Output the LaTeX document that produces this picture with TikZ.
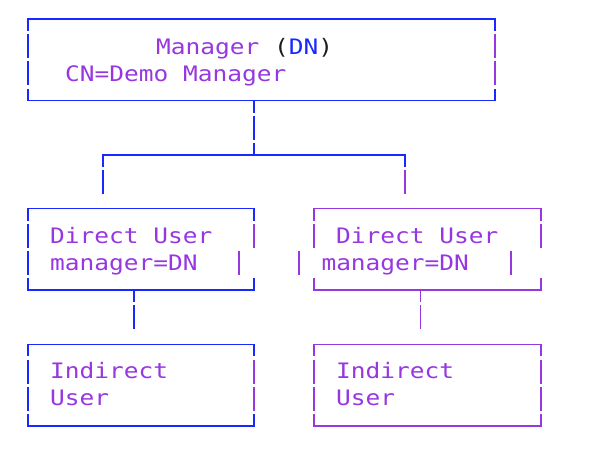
\documentclass[tikz,border=0pt]{standalone}
\usepackage{fontspec}
\usepackage{xcolor}
\usepackage{tikz}
\usetikzlibrary{positioning,calc}

\newfontfamily\asciifont[FakeStretch=1.15]{DejaVu Sans Mono}
\definecolor{asciiblue}{RGB}{25,40,255}
\definecolor{asciipurple}{RGB}{150,55,225}
\definecolor{parendark}{RGB}{30,30,30}

\begin{document}
\begin{tikzpicture}[x=1pt, y=-1pt]
    % Define styles
    \tikzstyle{box} = [rectangle, inner sep=0pt, minimum width=226pt, minimum height=81.3pt]
    \tikzstyle{blueline} = [draw=asciiblue, line width=1.8pt]
    \tikzstyle{purpleline} = [draw=asciipurple, line width=1.8pt]
    \tikzstyle{rowdash} = [dash pattern=on 24.1pt off 3pt, dash phase=12pt]
    \tikzstyle{txt} = [font={\asciifont\fontsize{21.3pt}{27.1pt}\selectfont}, text=asciipurple, anchor=base west, inner sep=0pt]

    \useasboundingbox (0,0) rectangle (599,450);

    % Boxes
    \node[box, minimum width=467pt] (manager) at (261.5,59.7) {};
    \node[box] (direct_l) at (141,249.4) {};
    \node[box, right=60pt of direct_l] (direct_r) {};
    \node[box, below=54.2pt of direct_l] (indirect_l) {};
    \node[box, below=54.2pt of direct_r] (indirect_r) {};

    % Top and bottom edges
    \foreach \b/\col in {manager/asciiblue, direct_l/asciiblue, direct_r/asciipurple, indirect_l/asciiblue, indirect_r/asciipurple} {
        \draw[draw=\col, line width=1.8pt] ([yshift=-12pt]\b.north west) |- (\b.north east) -- ++(0,12);
        \draw[draw=\col, line width=1.8pt] ([yshift=12pt]\b.south west) |- (\b.south east) -- ++(0,-12);
    }

    % Side bars, one for each text row
    \foreach \pos/\dx/\dy/\col in {manager.west/0/25.6/asciiblue, manager.west/0/-1.5/asciiblue,
        manager.east/0/25.6/asciipurple, manager.east/0/-1.5/asciipurple,
        direct_l.west/0/25.6/asciiblue, direct_l.west/0/-1.5/asciiblue,
        direct_l.east/0/25.6/asciipurple, direct_l.east/-15/-1.5/asciipurple,
        direct_r.west/0/25.6/asciipurple, direct_r.west/-15/-1.5/asciipurple,
        direct_r.east/0/25.6/asciipurple, direct_r.east/-30/-1.5/asciipurple,
        indirect_l.west/0/25.6/asciiblue, indirect_l.west/0/-1.5/asciiblue,
        indirect_l.east/0/25.6/asciipurple, indirect_l.east/0/-1.5/asciipurple,
        indirect_r.west/0/25.6/asciipurple, indirect_r.west/0/-1.5/asciipurple,
        indirect_r.east/0/25.6/asciipurple, indirect_r.east/0/-1.5/asciipurple}
        \draw[draw=\col, line width=1.8pt] ([xshift=\dx pt, yshift=\dy pt]\pos) -- ++(0,24.1);

    % Texts
    \node[txt] (manager_title) at (156,54) {Manager \textcolor{parendark}{(}\textcolor{asciiblue}{DN}\textcolor{parendark}{)}};
    \node[txt] (manager_cn) at (65,81) {CN=Demo Manager};
    \node[txt] (direct_l_name) at (50,243.5) {Direct User};
    \node[txt] (direct_l_attr) at (50,270.6) {manager=DN};
    \node[txt] (direct_r_name) at (336,243.5) {Direct User};
    \node[txt] (direct_r_attr) at (321.3,270.6) {manager=DN};
    \node[txt] (indirect_l_name) at (50,378.6) {Indirect};
    \node[txt] (indirect_l_rest) at (50,405.7) {User};
    \node[txt] (indirect_r_name) at (336,378.6) {Indirect};
    \node[txt] (indirect_r_rest) at (336,405.7) {User};

    % Connections
    \coordinate (split_c) at ([xshift=-7.5pt, yshift=-54.2pt]manager.south);
    \coordinate[left=151pt of split_c] (split_l);
    \coordinate[right=151pt of split_c] (split_r);
    \draw[blueline, rowdash] ([xshift=-7.5pt]manager.south) -- (split_c);
    \draw[blueline] ([yshift=-12pt]split_l) -- (split_l) -- (split_r) -- ([yshift=-12pt]split_r);
    \draw[blueline] ([yshift=-15pt]split_l) -- ($(split_l |- direct_l.north)+(0,-15)$);
    \draw[purpleline] ([yshift=-15pt]split_r) -- ($(split_r |- direct_r.north)+(0,-15)$);
    \draw[blueline, rowdash] ([xshift=-7pt]direct_l.south) -- ([xshift=-7pt, yshift=15pt]indirect_l.north);
    \draw[purpleline, rowdash] ([xshift=-7pt]direct_r.south) -- ([xshift=-7pt, yshift=15pt]indirect_r.north);
\end{tikzpicture}
\end{document}
